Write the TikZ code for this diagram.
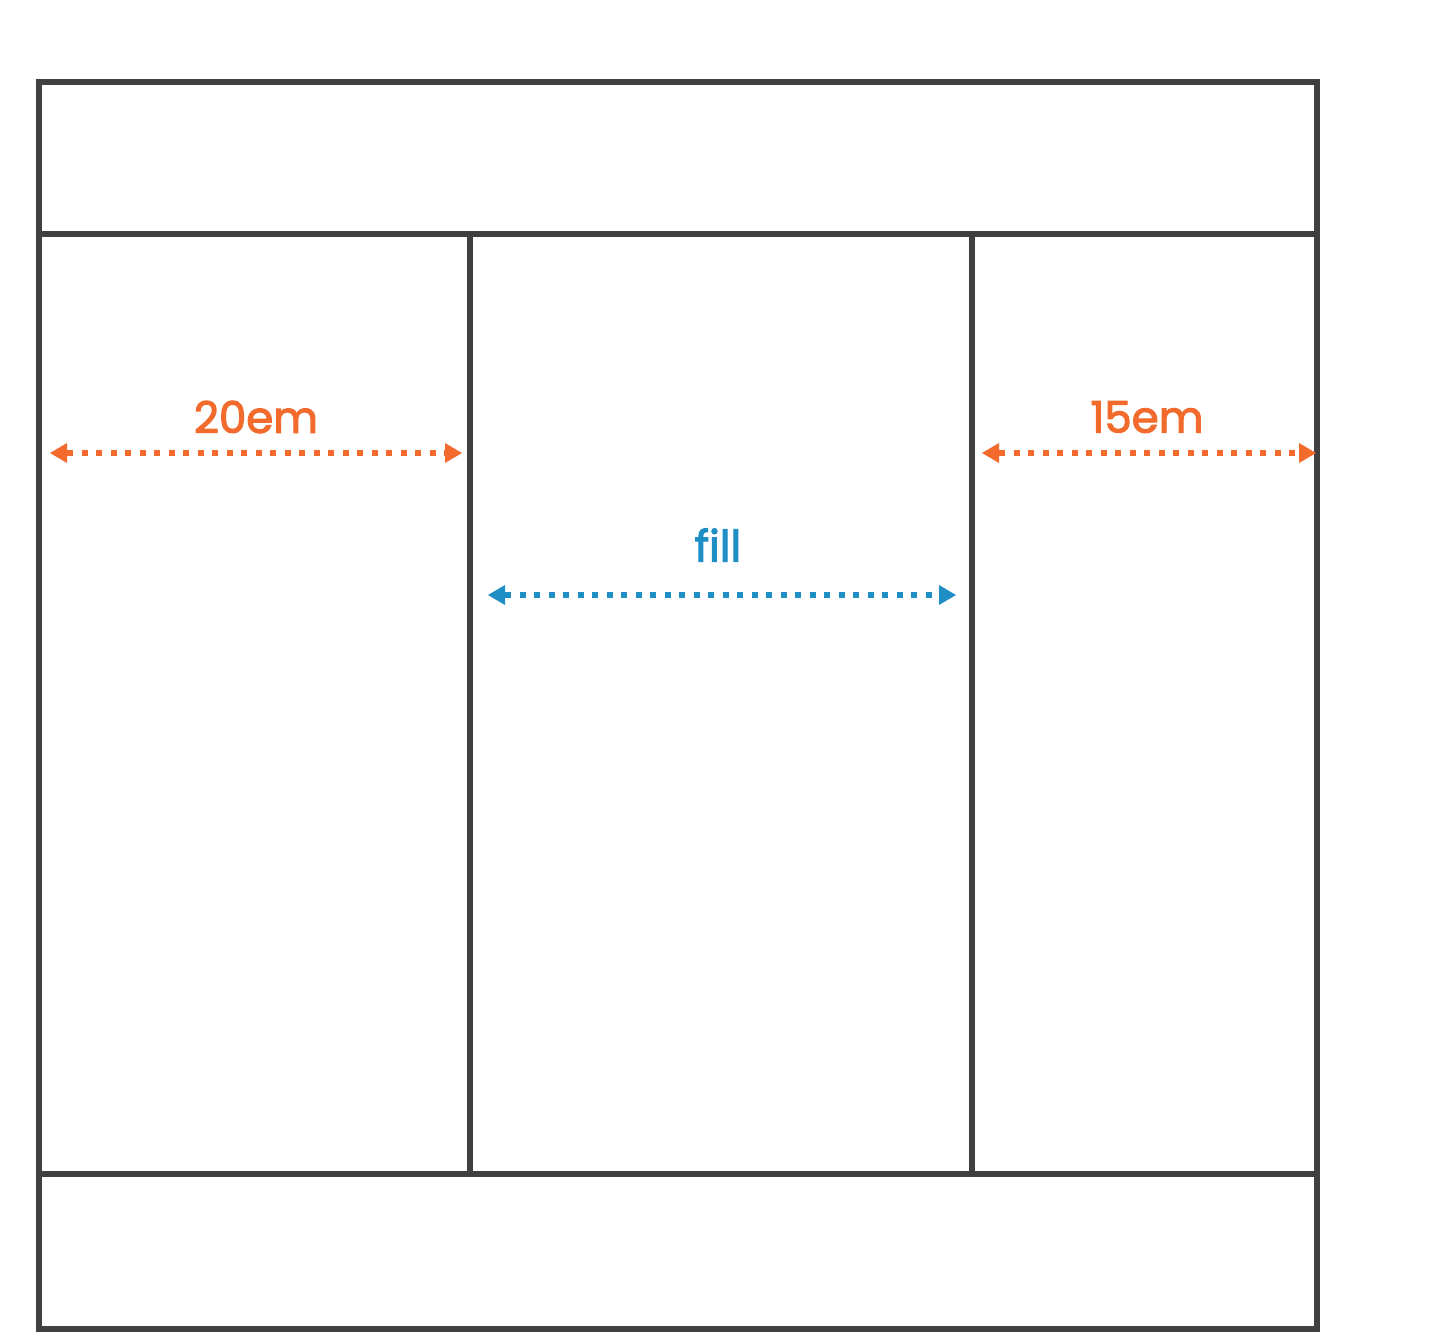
\documentclass[tikz,border=0pt]{standalone}
\usepackage{fontspec}
\setmainfont{Poppins}
\usetikzlibrary{arrows.meta}
\definecolor{frame}{HTML}{404040}
\definecolor{orng}{HTML}{F26A2C}
\definecolor{blu}{HTML}{1E8EC4}
\newcommand{\medtext}[1]{\special{pdf:code q 2 Tr 1.1 w}#1\special{pdf:code Q}}
\begin{document}
\begin{tikzpicture}[x=1pt,y=-1pt,
  region/.style={draw=frame,line width=6pt,inner sep=0pt,outer sep=0pt},
  dimline/.style={line width=6pt,dash pattern=on 6pt off 8.5pt,
     {Triangle[length=17pt,width=20pt,line width=0pt]}-{Triangle[length=17pt,width=20pt,line width=0pt]}},
  lbl/.style={font=\fontsize{43.5}{50}\selectfont, inner sep=0pt}]
\useasboundingbox (0,0) rectangle (1444,1344);
\fill[white] (0,0) rectangle (1444,1344);
% regions
\draw[region] (39,82) rectangle (1317,234);
\draw[region] (39,234) rectangle (470,1174);
\draw[region] (470,234) rectangle (972,1174);
\draw[region] (972,234) rectangle (1317,1174);
\draw[region] (39,1174) rectangle (1317,1329);
\coordinate (la) at (50,453);
\coordinate (lb) at (462,453);
\coordinate (ma) at (488,595);
\coordinate (mb) at (956,595);
\coordinate (ra) at (982,453);
\coordinate (rb) at (1316,453);
\draw[dimline,orng] (la) -- (lb);
\draw[dimline,blu] (ma) -- (mb);
\draw[dimline,orng] (ra) -- (rb);
\node[lbl,text=orng] (t20) at (256,417) {\medtext{20em}};
\node[lbl,text=blu] (tfill) at (718,545) {\medtext{fill}};
\node[lbl,text=orng] (t15) at (1147,417) {\medtext{15em}};
\end{tikzpicture}
\end{document}
